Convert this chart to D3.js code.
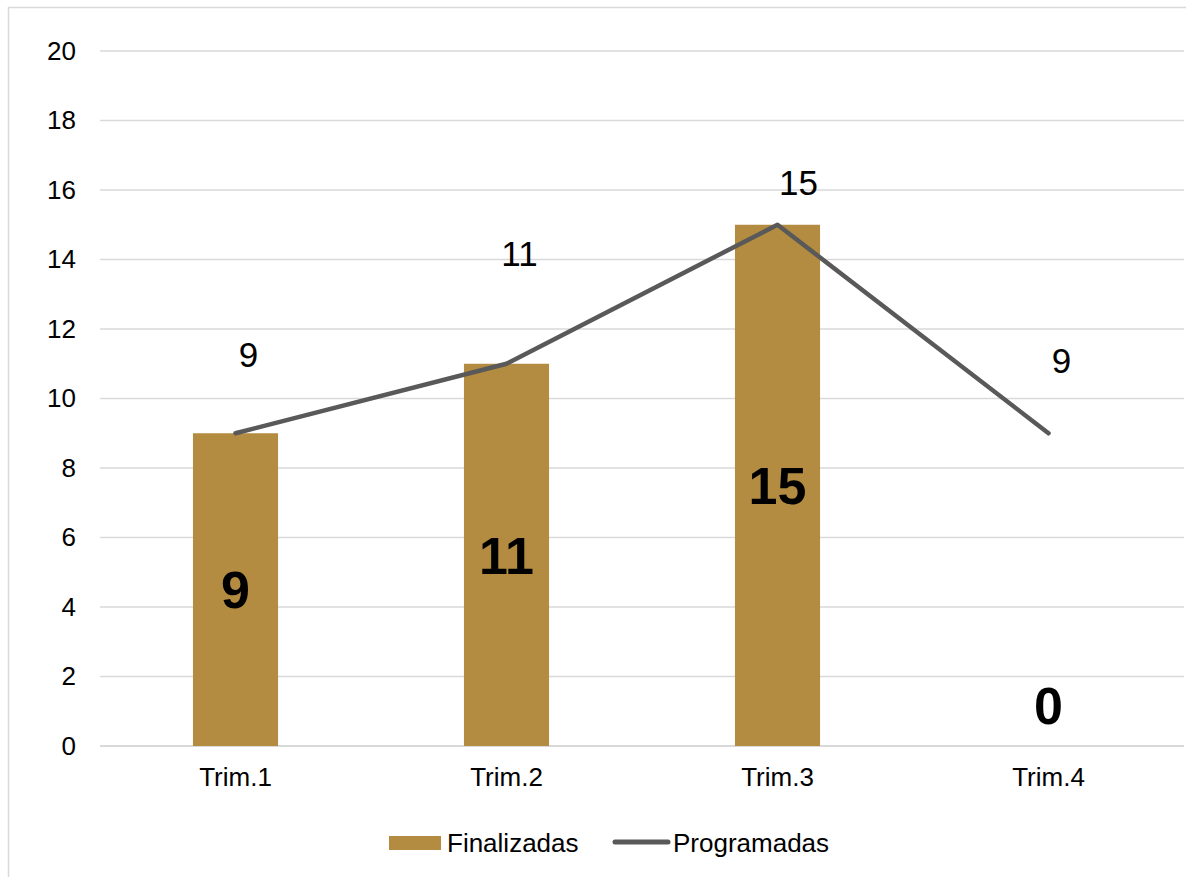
<!DOCTYPE html>
<html>
<head>
<meta charset="utf-8">
<script src="https://cdn.jsdelivr.net/npm/d3@7"></script>
<style>
  body { margin: 0; background: #fff; }
  svg { font-family: "Liberation Sans", Arial, sans-serif; display: block; }
</style>
</head>
<body>
<div id="main"></div>
<script>
// data
const categories = ["Trim.1", "Trim.2", "Trim.3", "Trim.4"];
const finalizadas = [9, 11, 15, 0];
const programadas = [9, 11, 15, 9];
const yTicks = [0, 2, 4, 6, 8, 10, 12, 14, 16, 18, 20];
const seriesNames = ["Finalizadas", "Programadas"];

const W = 1186, H = 877;
const plot = {left: 100, right: 1184, top: 51, bottom: 746};
const barColor = "#b38c42";
const lineColor = "#595959";

const svg = d3.select("#main")
  .append("svg")
  .attr("width", W)
  .attr("height", H);

// outer chart border (runs off the right / bottom edge)
svg.append("rect")
  .attr("x", 8.5).attr("y", 7.5)
  .attr("width", 1200).attr("height", 900)
  .attr("fill", "none")
  .attr("stroke", "#d9d9d9")
  .attr("stroke-width", 1.5);

const x = d3.scaleBand()
  .domain(categories)
  .range([plot.left, plot.right])
  .paddingInner(0.686)
  .paddingOuter(0.343);

const y = d3.scaleLinear()
  .domain([0, 20])
  .range([plot.bottom, plot.top]);

const cx = d => x(d) + x.bandwidth() / 2;

// gridlines
svg.append("g")
  .selectAll("line")
  .data(yTicks)
  .enter()
  .append("line")
  .attr("x1", plot.left)
  .attr("x2", plot.right)
  .attr("y1", d => y(d))
  .attr("y2", d => y(d))
  .attr("stroke", "#d9d9d9")
  .attr("stroke-width", d => d === 0 ? 2 : 1.5);

// y axis labels
const yAxis = d3.axisLeft(y).tickValues(yTicks).tickSize(0).tickPadding(0);
svg.append("g")
  .attr("transform", "translate(76,0)")
  .call(yAxis)
  .call(g => g.select(".domain").remove())
  .selectAll("text")
  .attr("font-size", 26)
  .attr("font-family", "Liberation Sans, Arial, sans-serif")
  .attr("fill", "#000");

// x axis labels
const xAxis = d3.axisBottom(x).tickSize(0).tickPadding(0);
svg.append("g")
  .attr("transform", "translate(0," + plot.bottom + ")")
  .call(xAxis)
  .call(g => g.select(".domain").remove())
  .selectAll("text")
  .attr("dy", null)
  .attr("y", 40)
  .attr("font-size", 26)
  .attr("font-family", "Liberation Sans, Arial, sans-serif")
  .attr("fill", "#000");

// bars
svg.append("g")
  .selectAll("rect")
  .data(finalizadas)
  .enter()
  .append("rect")
  .attr("x", (d, i) => x(categories[i]))
  .attr("width", x.bandwidth())
  .attr("y", d => y(d))
  .attr("height", d => y(0) - y(d))
  .attr("fill", barColor);

// line
const line = d3.line()
  .x((d, i) => cx(categories[i]))
  .y(d => y(d));

svg.append("path")
  .datum(programadas)
  .attr("d", line)
  .attr("fill", "none")
  .attr("stroke", lineColor)
  .attr("stroke-width", 4.5)
  .attr("stroke-linecap", "round")
  .attr("stroke-linejoin", "round");

// line labels (Excel placed them by hand, so the lift varies)
const lineLabelLift = [66, 98, 30, 60];
svg.append("g")
  .selectAll("text")
  .data(programadas)
  .enter()
  .append("text")
  .attr("x", (d, i) => cx(categories[i]) + (i === 2 ? 21 : 13))
  .attr("y", (d, i) => y(d) - lineLabelLift[i])
  .attr("text-anchor", "middle")
  .attr("font-size", 35)
  .attr("fill", "#000")
  .text(d => d);

// bar labels
svg.append("g")
  .selectAll("text")
  .data(finalizadas)
  .enter()
  .append("text")
  .attr("x", (d, i) => cx(categories[i]))
  .attr("y", d => d === 0 ? y(0) - 41 : (y(d) + y(0)) / 2)
  .attr("dy", "0.36em")
  .attr("text-anchor", "middle")
  .attr("font-size", 52)
  .attr("font-weight", "bold")
  .attr("fill", "#000")
  .text(d => d);

// legend
const legend = svg.append("g");
legend.append("rect")
  .attr("x", 389).attr("y", 836)
  .attr("width", 52).attr("height", 14)
  .attr("fill", barColor);
legend.append("text")
  .attr("x", 447).attr("y", 852)
  .attr("font-size", 26)
  .attr("fill", "#000")
  .text(seriesNames[0]);
legend.append("line")
  .attr("x1", 615).attr("x2", 668)
  .attr("y1", 842).attr("y2", 842)
  .attr("stroke", lineColor)
  .attr("stroke-width", 5)
  .attr("stroke-linecap", "round");
legend.append("text")
  .attr("x", 673).attr("y", 852)
  .attr("font-size", 26)
  .attr("fill", "#000")
  .text(seriesNames[1]);
</script>
</body>
</html>
